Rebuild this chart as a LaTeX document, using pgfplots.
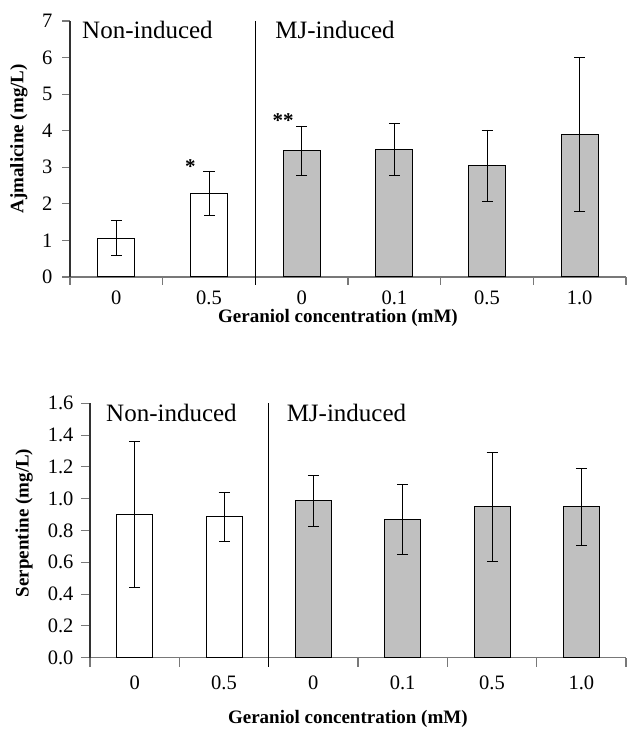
\documentclass[border=0pt]{standalone}
\usepackage{fontspec}
\setmainfont{Liberation Serif}
\usepackage{pgfplots}
\pgfplotsset{compat=1.18}
\definecolor{axisgray}{RGB}{120,120,120}
\definecolor{yaxisgray}{RGB}{50,50,50}
\definecolor{barfill}{RGB}{192,192,192}
\pgfplotsset{
  common/.style={
    scale only axis,
    clip=false,
    xmin=-0.5, xmax=5.5,
    axis lines*=left,
    axis line style={line width=1.1pt},
    x axis line style={draw=axisgray},
    y axis line style={draw=yaxisgray},
    tick align=outside,
    every tick/.style={draw=axisgray, line width=1.1pt},
    xtick={-0.5,0.5,...,5.5},
    xticklabels={},
    extra x ticks={0,1,2,3,4,5},
    extra x tick labels={0,0.5,0,0.1,0.5,1.0},
    tick label style={font=\fontsize{20.5bp}{25bp}\selectfont},
    /pgf/number format/assume math mode=true,
    ybar, bar width=37bp, bar shift=0pt,
    xlabel={Geraniol concentration (mM)},
    label style={font=\fontsize{19bp}{23bp}\selectfont\bfseries},
  },
  ebars/.style={
    error bars/.cd, y dir=both, y explicit,
    error bar style={black, line width=0.8pt},
    error mark options={rotate=90, mark size=5.5bp, black, line width=0.8pt},
  },
}
\begin{document}
\begin{tikzpicture}
\useasboundingbox (0,0) rectangle (627bp,732bp);
% ---------- top ----------
\begin{axis}[common,
  at={(70bp,455bp)}, anchor=south west,
  width=556bp, height=256bp,
  ymin=0, ymax=7, ytick={0,1,...,7},
  major tick length=8bp,
  yticklabel style={xshift=-6bp},
  extra x tick style={major tick length=0pt, tick label style={anchor=center, yshift=-21bp}},
  ylabel={Ajmalicine (mg/L)},
  ylabel style={at={(axis description cs:-0.092,0.54)}, anchor=center},
  xlabel style={at={(axis description cs:0.482,-0.16)}, anchor=center},
]
\addplot[fill=white, draw=black, line width=1pt, ebars] coordinates {
  (0,1.06) +- (0,0.48)
  (1,2.29) +- (0,0.61)
};
\addplot[fill=barfill, draw=black, line width=1pt, ebars] coordinates {
  (2,3.45) +- (0,0.68)
  (3,3.49) +- (0,0.70)
  (4,3.05) +- (0,0.97)
  (5,3.90) +- (0,2.10)
};
\draw[black, line width=0.8pt] (1.5,7) -- (1.5,0) -- ++(0pt,-8bp);
\node[font=\fontsize{25bp}{30bp}\selectfont, anchor=center] at (0.336,6.75) {Non-induced};
\node[font=\fontsize{25bp}{30bp}\selectfont, anchor=center] at (2.36,6.75) {MJ-induced};
\node[font=\fontsize{21bp}{25bp}\selectfont\bfseries, anchor=base] at (0.8,2.84) {*};
\node[font=\fontsize{21bp}{25bp}\selectfont\bfseries, anchor=base] at (1.8,4.10) {**};
\end{axis}
% ---------- bottom ----------
\begin{axis}[common,
  at={(90bp,74.3bp)}, anchor=south west,
  width=536bp, height=254.4bp,
  bar width=36bp,
  ymin=0, ymax=1.6, ytick={0,0.2,...,1.6},
  yticklabel style={xshift=-4bp, /pgf/number format/.cd, fixed, fixed zerofill, precision=1},
  major tick length=9bp,
  extra x tick style={major tick length=0pt, tick label style={anchor=center, yshift=-25bp}},
  ylabel={Serpentine (mg/L)},
  ylabel style={at={(axis description cs:-0.123,0.53)}, anchor=center},
  xlabel style={at={(axis description cs:0.481,-0.241)}, anchor=center},
]
\addplot[fill=white, draw=black, line width=1pt, ebars] coordinates {
  (0,0.900) +- (0,0.460)
  (1,0.887) +- (0,0.155)
};
\addplot[fill=barfill, draw=black, line width=1pt, ebars] coordinates {
  (2,0.987) +- (0,0.160)
  (3,0.868) +- (0,0.220)
  (4,0.948) +- (0,0.345)
  (5,0.948) +- (0,0.240)
};
\draw[black, line width=0.8pt] (1.5,1.6) -- (1.5,0) -- ++(0pt,-9bp);
\node[font=\fontsize{25bp}{30bp}\selectfont, anchor=center] at (0.412,1.539) {Non-induced};
\node[font=\fontsize{25bp}{30bp}\selectfont, anchor=center] at (2.371,1.539) {MJ-induced};
\end{axis}
\end{tikzpicture}
\end{document}
